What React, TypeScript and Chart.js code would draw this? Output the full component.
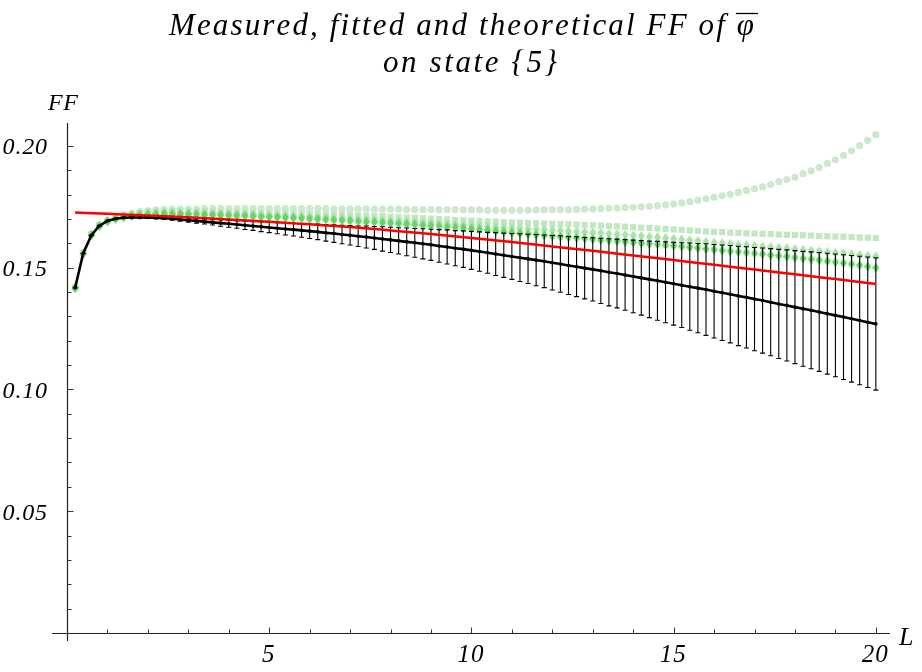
import React, { useEffect, useRef } from 'react';
import { Chart, registerables } from 'chart.js';

Chart.register(...registerables);

// ---------- data ----------
const L_VALUES = [
  0.2, 0.4, 0.6, 0.8, 1.0, 1.2, 1.4, 1.6, 1.8, 2.0,
  2.2, 2.4, 2.6, 2.8, 3.0, 3.2, 3.4, 3.6, 3.8, 4.0,
  4.2, 4.4, 4.6, 4.8, 5.0, 5.2, 5.4, 5.6, 5.8, 6.0,
  6.2, 6.4, 6.6, 6.8, 7.0, 7.2, 7.4, 7.6, 7.8, 8.0,
  8.2, 8.4, 8.6, 8.8, 9.0, 9.2, 9.4, 9.6, 9.8, 10.0,
  10.2, 10.4, 10.6, 10.8, 11.0, 11.2, 11.4, 11.6, 11.8, 12.0,
  12.2, 12.4, 12.6, 12.8, 13.0, 13.2, 13.4, 13.6, 13.8, 14.0,
  14.2, 14.4, 14.6, 14.8, 15.0, 15.2, 15.4, 15.6, 15.8, 16.0,
  16.2, 16.4, 16.6, 16.8, 17.0, 17.2, 17.4, 17.6, 17.8, 18.0,
  18.2, 18.4, 18.6, 18.8, 19.0, 19.2, 19.4, 19.6, 19.8, 20.0,
];

// fitted FF (black line) and its error half-widths
const FIT_FF = [
  0.1417, 0.1558, 0.1632, 0.1672, 0.1692, 0.1701, 0.1705, 0.1706, 0.1706, 0.1706,
  0.1705, 0.1703, 0.1701, 0.1698, 0.1695, 0.1692, 0.1689, 0.1686, 0.1683, 0.1680,
  0.1677, 0.1674, 0.1671, 0.1668, 0.1665, 0.1662, 0.1659, 0.1656, 0.1653, 0.1650,
  0.1647, 0.1643, 0.1640, 0.1636, 0.1633, 0.1629, 0.1626, 0.1622, 0.1618, 0.1614,
  0.1610, 0.1606, 0.1602, 0.1598, 0.1594, 0.1589, 0.1585, 0.1580, 0.1576, 0.1571,
  0.1566, 0.1561, 0.1556, 0.1551, 0.1546, 0.1541, 0.1536, 0.1531, 0.1526, 0.1520,
  0.1515, 0.1509, 0.1504, 0.1498, 0.1493, 0.1487, 0.1481, 0.1476, 0.1470, 0.1464,
  0.1458, 0.1452, 0.1446, 0.1440, 0.1434, 0.1428, 0.1422, 0.1416, 0.1410, 0.1403,
  0.1397, 0.1391, 0.1384, 0.1378, 0.1371, 0.1365, 0.1358, 0.1351, 0.1345, 0.1338,
  0.1331, 0.1325, 0.1318, 0.1311, 0.1304, 0.1297, 0.1290, 0.1283, 0.1276, 0.1269,
];

const FIT_ERR = [
  0.0000, 0.0000, 0.0001, 0.0001, 0.0001, 0.0002, 0.0002, 0.0003, 0.0003, 0.0004,
  0.0005, 0.0005, 0.0006, 0.0007, 0.0008, 0.0009, 0.0010, 0.0011, 0.0013, 0.0014,
  0.0015, 0.0017, 0.0018, 0.0020, 0.0021, 0.0023, 0.0025, 0.0026, 0.0028, 0.0030,
  0.0032, 0.0034, 0.0036, 0.0038, 0.0040, 0.0042, 0.0045, 0.0047, 0.0050, 0.0052,
  0.0054, 0.0057, 0.0059, 0.0062, 0.0064, 0.0067, 0.0070, 0.0072, 0.0075, 0.0078,
  0.0081, 0.0084, 0.0088, 0.0091, 0.0094, 0.0098, 0.0101, 0.0105, 0.0108, 0.0112,
  0.0116, 0.0119, 0.0123, 0.0126, 0.0130, 0.0134, 0.0138, 0.0141, 0.0145, 0.0149,
  0.0153, 0.0157, 0.0162, 0.0166, 0.0170, 0.0174, 0.0179, 0.0183, 0.0188, 0.0192,
  0.0196, 0.0200, 0.0204, 0.0208, 0.0212, 0.0216, 0.0220, 0.0224, 0.0228, 0.0232,
  0.0236, 0.0240, 0.0244, 0.0248, 0.0252, 0.0256, 0.0260, 0.0264, 0.0268, 0.0272,
];

// measured FF (green markers)
const MEAS_CIRCLES = [
  0.1417, 0.1560, 0.1638, 0.1675, 0.1695, 0.1708, 0.1716, 0.1724, 0.1730, 0.1734,
  0.1737, 0.1739, 0.1740, 0.1741, 0.1741, 0.1741, 0.1742, 0.1742, 0.1742, 0.1742,
  0.1742, 0.1742, 0.1742, 0.1742, 0.1742, 0.1742, 0.1742, 0.1742, 0.1742, 0.1742,
  0.1742, 0.1742, 0.1741, 0.1741, 0.1741, 0.1741, 0.1741, 0.1740, 0.1740, 0.1740,
  0.1740, 0.1739, 0.1739, 0.1739, 0.1739, 0.1738, 0.1738, 0.1738, 0.1737, 0.1737,
  0.1737, 0.1736, 0.1736, 0.1736, 0.1736, 0.1736, 0.1736, 0.1737, 0.1737, 0.1738,
  0.1738, 0.1738, 0.1739, 0.1740, 0.1741, 0.1742, 0.1744, 0.1745, 0.1747, 0.1748,
  0.1750, 0.1752, 0.1755, 0.1758, 0.1761, 0.1766, 0.1771, 0.1777, 0.1783, 0.1789,
  0.1795, 0.1801, 0.1809, 0.1817, 0.1824, 0.1832, 0.1841, 0.1853, 0.1862, 0.1872,
  0.1886, 0.1898, 0.1912, 0.1928, 0.1943, 0.1961, 0.1980, 0.2001, 0.2023, 0.2046,
];

const MEAS_SQUARES = [
  0.1417, 0.1559, 0.1636, 0.1673, 0.1693, 0.1705, 0.1713, 0.1719, 0.1724, 0.1727,
  0.1729, 0.1730, 0.1731, 0.1731, 0.1731, 0.1731, 0.1730, 0.1730, 0.1729, 0.1729,
  0.1728, 0.1727, 0.1727, 0.1726, 0.1725, 0.1724, 0.1723, 0.1722, 0.1721, 0.1720,
  0.1719, 0.1718, 0.1717, 0.1716, 0.1715, 0.1714, 0.1713, 0.1712, 0.1711, 0.1709,
  0.1708, 0.1706, 0.1705, 0.1703, 0.1701, 0.1700, 0.1698, 0.1696, 0.1695, 0.1693,
  0.1692, 0.1690, 0.1689, 0.1687, 0.1686, 0.1685, 0.1684, 0.1683, 0.1681, 0.1680,
  0.1679, 0.1678, 0.1677, 0.1675, 0.1674, 0.1673, 0.1671, 0.1670, 0.1668, 0.1666,
  0.1664, 0.1663, 0.1661, 0.1659, 0.1657, 0.1655, 0.1653, 0.1651, 0.1649, 0.1647,
  0.1646, 0.1644, 0.1643, 0.1641, 0.1640, 0.1639, 0.1638, 0.1636, 0.1635, 0.1634,
  0.1633, 0.1632, 0.1630, 0.1629, 0.1628, 0.1627, 0.1626, 0.1624, 0.1623, 0.1622,
];

const MEAS_DIAMONDS_PALE = [
  0.1417, 0.1559, 0.1635, 0.1672, 0.1691, 0.1702, 0.1710, 0.1716, 0.1720, 0.1723,
  0.1725, 0.1726, 0.1726, 0.1726, 0.1725, 0.1725, 0.1724, 0.1723, 0.1722, 0.1721,
  0.1720, 0.1719, 0.1717, 0.1716, 0.1714, 0.1713, 0.1712, 0.1711, 0.1709, 0.1708,
  0.1706, 0.1705, 0.1703, 0.1702, 0.1700, 0.1698, 0.1697, 0.1695, 0.1694, 0.1692,
  0.1690, 0.1688, 0.1687, 0.1685, 0.1683, 0.1681, 0.1679, 0.1678, 0.1676, 0.1674,
  0.1672, 0.1670, 0.1668, 0.1666, 0.1664, 0.1662, 0.1660, 0.1658, 0.1656, 0.1654,
  0.1652, 0.1650, 0.1648, 0.1646, 0.1644, 0.1642, 0.1639, 0.1637, 0.1635, 0.1632,
  0.1630, 0.1627, 0.1625, 0.1622, 0.1619, 0.1616, 0.1613, 0.1610, 0.1606, 0.1603,
  0.1600, 0.1597, 0.1594, 0.1592, 0.1589, 0.1586, 0.1584, 0.1581, 0.1579, 0.1576,
  0.1573, 0.1570, 0.1567, 0.1564, 0.1561, 0.1558, 0.1555, 0.1552, 0.1549, 0.1546,
];

const MEAS_DIAMONDS_BRIGHT = [
  0.1417, 0.1558, 0.1634, 0.1671, 0.1690, 0.1700, 0.1707, 0.1712, 0.1716, 0.1719,
  0.1720, 0.1721, 0.1721, 0.1720, 0.1719, 0.1718, 0.1717, 0.1716, 0.1715, 0.1714,
  0.1713, 0.1712, 0.1711, 0.1709, 0.1708, 0.1707, 0.1705, 0.1704, 0.1702, 0.1700,
  0.1699, 0.1697, 0.1695, 0.1694, 0.1692, 0.1690, 0.1688, 0.1687, 0.1685, 0.1683,
  0.1681, 0.1679, 0.1677, 0.1674, 0.1672, 0.1670, 0.1668, 0.1665, 0.1663, 0.1660,
  0.1657, 0.1654, 0.1651, 0.1648, 0.1645, 0.1642, 0.1639, 0.1636, 0.1633, 0.1630,
  0.1627, 0.1625, 0.1622, 0.1620, 0.1617, 0.1614, 0.1612, 0.1609, 0.1607, 0.1604,
  0.1601, 0.1598, 0.1596, 0.1593, 0.1590, 0.1587, 0.1584, 0.1581, 0.1577, 0.1574,
  0.1571, 0.1568, 0.1565, 0.1562, 0.1559, 0.1556, 0.1552, 0.1549, 0.1546, 0.1542,
  0.1538, 0.1535, 0.1531, 0.1527, 0.1523, 0.1519, 0.1515, 0.1510, 0.1505, 0.1500,
];

// theoretical FF (red curve)
const THEORY_L = [0.2, 1, 2, 3, 4, 5, 6, 7, 8, 9, 10, 11, 12, 13, 14, 15, 16, 17, 18, 19, 20];
const THEORY_FF = [
  0.1726, 0.1721, 0.1714, 0.1707, 0.1698, 0.1689, 0.1678, 0.1667, 0.1653, 0.1638,
  0.1622, 0.1605, 0.1587, 0.1569, 0.1550, 0.1531, 0.1512, 0.1492, 0.1473, 0.1453, 0.1433,
];

const X_TICK_VALUES = [5, 10, 15, 20];
const X_TICK_LABELS = ['5', '10', '15', '20'];
const Y_TICK_VALUES = [0.05, 0.1, 0.15, 0.2];
const Y_TICK_LABELS = ['0.05', '0.10', '0.15', '0.20'];

const TITLE_LINE_1 = 'Measured, fitted and theoretical FF of \u03C6';
const TITLE_LINE_2 = 'on state {5}';
const X_AXIS_LABEL = 'L';
const Y_AXIS_LABEL = 'FF';

// ---------- helpers ----------
const toPoints = (xs: number[], ys: number[]) => xs.map((x, i) => ({ x, y: ys[i] }));

function makeDiamond(color: string, w: number, h: number): HTMLCanvasElement {
  const c = document.createElement('canvas');
  c.width = w;
  c.height = h;
  const g = c.getContext('2d')!;
  g.fillStyle = color;
  g.beginPath();
  g.moveTo(w / 2, 0);
  g.lineTo(w, h / 2);
  g.lineTo(w / 2, h);
  g.lineTo(0, h / 2);
  g.closePath();
  g.fill();
  return c;
}

function drawSpaced(
  ctx: CanvasRenderingContext2D,
  text: string,
  x: number,
  y: number,
  spacing: number,
  align: 'left' | 'right' | 'center'
) {
  const chars = Array.from(text);
  const widths = chars.map((c) => ctx.measureText(c).width);
  const total = widths.reduce((a, b) => a + b, 0) + spacing * (chars.length - 1);
  let cx = align === 'right' ? x - total : align === 'center' ? x - total / 2 : x;
  const pos: number[] = [];
  ctx.textAlign = 'left';
  chars.forEach((c, i) => {
    pos.push(cx);
    ctx.fillText(c, cx, y);
    cx += widths[i] + spacing;
  });
  return { pos, widths };
}

function drawFitted(ctx: CanvasRenderingContext2D, text: string, x0: number, x1: number, y: number) {
  const chars = Array.from(text);
  const natural = chars.reduce((a, c) => a + ctx.measureText(c).width, 0);
  const spacing = (x1 - x0 - natural) / (chars.length - 1);
  return drawSpaced(ctx, text, x0, y, spacing, 'left');
}

const FIT_INDEX = 1;

const decorPlugin = {
  id: 'decor',
  beforeDatasetsDraw(chart: any) {
    const { ctx, chartArea: a } = chart;
    const xs = chart.scales.x;
    const ys = chart.scales.y;
    const x0 = Math.round(xs.getPixelForValue(0)) + 0.5;
    const y0 = Math.round(ys.getPixelForValue(0)) + 0.5;
    ctx.save();
    ctx.strokeStyle = '#222';
    ctx.lineWidth = 1.2;
    ctx.beginPath();
    ctx.moveTo(a.left, y0);
    ctx.lineTo(a.right, y0);
    ctx.moveTo(x0, a.top);
    ctx.lineTo(x0, a.bottom);
    ctx.stroke();
    ctx.lineWidth = 1;
    ctx.strokeStyle = '#333';
    ctx.beginPath();
    for (let i = 1; i <= 20; i++) {
      const px = Math.round(xs.getPixelForValue(i)) + 0.5;
      const len = i % 5 === 0 ? 6 : 4;
      ctx.moveTo(px, y0);
      ctx.lineTo(px, y0 - len);
    }
    for (let j = 1; j <= 20; j++) {
      const py = Math.round(ys.getPixelForValue(j / 100)) + 0.5;
      const len = j % 5 === 0 ? 6 : 4;
      ctx.moveTo(x0, py);
      ctx.lineTo(x0 + len, py);
    }
    ctx.stroke();
    ctx.restore();
  },
  beforeDatasetDraw(chart: any, args: any) {
    if (args.index !== FIT_INDEX) return;
    const { ctx } = chart;
    const xs = chart.scales.x;
    const ys = chart.scales.y;
    ctx.save();
    ctx.strokeStyle = '#000';
    ctx.lineWidth = 1.1;
    ctx.beginPath();
    L_VALUES.forEach((l, i) => {
      const px = xs.getPixelForValue(l);
      const top = ys.getPixelForValue(FIT_FF[i] + FIT_ERR[i]);
      const bot = ys.getPixelForValue(FIT_FF[i] - FIT_ERR[i]);
      ctx.moveTo(px, top);
      ctx.lineTo(px, bot);
      ctx.moveTo(px - 2.5, top);
      ctx.lineTo(px + 2.5, top);
      ctx.moveTo(px - 2.5, bot);
      ctx.lineTo(px + 2.5, bot);
    });
    ctx.stroke();
    ctx.restore();
  },
  afterDraw(chart: any) {
    const { ctx } = chart;
    const xs = chart.scales.x;
    const ys = chart.scales.y;
    ctx.save();
    ctx.fillStyle = '#000';
    ctx.textBaseline = 'alphabetic';

    // title
    ctx.font = "italic 31px 'Liberation Serif'";
    const t1 = drawFitted(ctx, TITLE_LINE_1, 169, 754, 35);
    const last = t1.pos.length - 1;
    ctx.strokeStyle = '#000';
    ctx.lineWidth = 1.3;
    ctx.beginPath();
    ctx.moveTo(t1.pos[last] - 1, 13.5);
    ctx.lineTo(t1.pos[last] + t1.widths[last] + 4, 13.5);
    ctx.stroke();
    drawFitted(ctx, TITLE_LINE_2, 383, 557, 72);

    // axis labels
    ctx.font = "italic 24px 'Liberation Serif'";
    drawSpaced(ctx, Y_AXIS_LABEL, 48, 110, 0.5, 'left');
    ctx.font = "italic 26px 'Liberation Serif'";
    drawSpaced(ctx, X_AXIS_LABEL, 899, 645, 0, 'left');

    // tick labels
    ctx.font = "italic 24px 'Liberation Serif'";
    Y_TICK_VALUES.forEach((v, i) => {
      const py = ys.getPixelForValue(v);
      drawSpaced(ctx, Y_TICK_LABELS[i], 47, py + 8.5, 0.8, 'right');
    });
    ctx.font = "italic 25px 'Liberation Serif'";
    X_TICK_VALUES.forEach((v, i) => {
      const px = xs.getPixelForValue(v);
      drawSpaced(ctx, X_TICK_LABELS[i], px - 1, 662, 1, 'center');
    });
    ctx.restore();
  },
};

export default function App() {
  const ref = useRef<HTMLCanvasElement | null>(null);

  useEffect(() => {
    if (!ref.current) return;
    const diamondPale = makeDiamond('#a8e2a8', 7, 10);
    const diamondBright = makeDiamond('#62d662', 7, 10);

    const chart = new Chart(ref.current, {
      type: 'scatter',
      data: {
        datasets: [
          {
            label: 'theoretical',
            data: toPoints(THEORY_L, THEORY_FF),
            showLine: true,
            borderColor: '#ff0000',
            borderWidth: 2.5,
            pointRadius: 0,
            cubicInterpolationMode: 'monotone',
          },
          {
            label: 'fitted',
            data: toPoints(L_VALUES, FIT_FF),
            showLine: true,
            borderColor: '#000',
            borderWidth: 2.6,
            pointRadius: 1.8,
            pointBackgroundColor: '#000',
            pointBorderWidth: 0,
          },
          {
            label: 'measured 4',
            data: toPoints(L_VALUES, MEAS_DIAMONDS_BRIGHT),
            showLine: false,
            pointStyle: diamondBright,
          },
          {
            label: 'measured 3',
            data: toPoints(L_VALUES, MEAS_DIAMONDS_PALE),
            showLine: false,
            pointStyle: diamondPale,
          },
          {
            label: 'measured 2',
            data: toPoints(L_VALUES, MEAS_SQUARES),
            showLine: false,
            pointStyle: 'rect',
            pointRadius: 4.4,
            pointBackgroundColor: '#c3e7c3',
            pointBorderWidth: 0,
          },
          {
            label: 'measured 1',
            data: toPoints(L_VALUES, MEAS_CIRCLES),
            showLine: false,
            pointStyle: 'circle',
            pointRadius: 3.6,
            pointBackgroundColor: '#cde8cd',
            pointBorderWidth: 0,
          },
        ] as any,
      },
      options: {
        animation: false,
        responsive: false,
        maintainAspectRatio: false,
        layout: { padding: { left: 52, right: 32, top: 123, bottom: 31 } },
        plugins: {
          legend: { display: false },
          title: { display: false },
          tooltip: { enabled: false },
        },
        events: [],
        scales: {
          x: { type: 'linear', min: -0.371, max: 20.35, display: false },
          y: { type: 'linear', min: -0.0033, max: 0.2094, display: false },
        },
      },
      plugins: [decorPlugin],
    });
    return () => chart.destroy();
  }, []);

  return (
    <div style={{ position: 'absolute', left: 0, top: 0, width: 922, height: 672, background: '#fff' }}>
      <canvas ref={ref} width={922} height={672} style={{ display: 'block' }} />
    </div>
  );
}
